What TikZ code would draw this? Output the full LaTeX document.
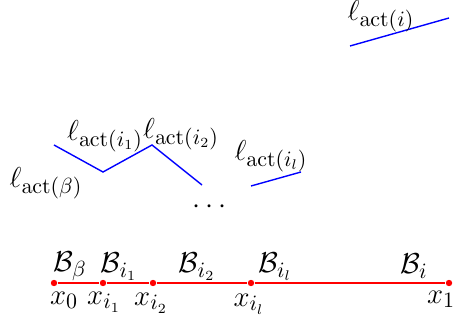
\documentclass[tikz,border=0pt]{standalone}
\usepackage{amsmath, amssymb}
\usetikzlibrary{positioning}
\tikzset{
  actline/.style={blue, line width=0.7pt},
  axisline/.style={red, line width=0.7pt},
  ptnode/.style={circle, fill=red, inner sep=0pt, minimum size=3.2pt},
  lbl/.style={inner sep=0.5pt, font=\fontsize{15}{18}\selectfont}
}
\newcommand{\act}[1]{\ell_{\mathrm{act}(#1)}}

\begin{document}
\begin{tikzpicture}[x=0.5pt, y=0.5pt]
  \useasboundingbox (0,0) rectangle (458,325);
  % points on the segment
  \node[ptnode] (p0) at (54,42) {};
  \node[ptnode] (p1) at (103,42) {};
  \node[ptnode] (p2) at (153,42) {};
  \node[ptnode] (pl) at (251,42) {};
  \node[ptnode] (pe) at (449,42) {};
  \draw[axisline] (p0) -- (p1) -- (p2) -- (pl) -- (pe);
  \node[lbl] (x0) at (64,25) {$x_0$};
  \node[lbl] (x1) at (104,23) {$x_{i_1}$};
  \node[lbl] (x2) at (151,22) {$x_{i_2}$};
  \node[lbl] (xl) at (249,21) {$x_{i_l}$};
  \node[lbl] (xe) at (441,26) {$x_1$};
  \node[lbl] (b0) at (70,59) {$\mathcal{B}_\beta$};
  \node[lbl] (b1) at (119,58) {$\mathcal{B}_{i_1}$};
  \node[lbl] (b2) at (197,58) {$\mathcal{B}_{i_2}$};
  \node[lbl] (bl) at (275,58) {$\mathcal{B}_{i_l}$};
  \node[lbl] (be) at (414,59) {$\mathcal{B}_i$};
  % active lines
  \coordinate (a0) at (54,180);
  \coordinate (a1) at (103,153);
  \coordinate (a2) at (152,180);
  \coordinate (a3) at (202,140);
  \coordinate (c0) at (251,139);
  \coordinate (c1) at (301,153);
  \coordinate (d0) at (350,279);
  \coordinate (d1) at (449,307);
  \draw[actline] (a0) -- (a1) -- (a2) -- (a3);
  \draw[actline] (c0) -- (c1);
  \draw[actline] (d0) -- (d1);
  \node[lbl] (lb) at (46,142) {$\act{\beta}$};
  \node[lbl] (l1) at (105,189) {$\act{i_1}$};
  \node[lbl] (l2) at (181,191) {$\act{i_2}$};
  \node[lbl] (ll) at (271,169) {$\act{i_l}$};
  \node[lbl, inner sep=0pt] (le) at (381,309) {$\act{i}$};
  \node[lbl] (dots) at (212,118) {$\cdots$};
\end{tikzpicture}
\end{document}
